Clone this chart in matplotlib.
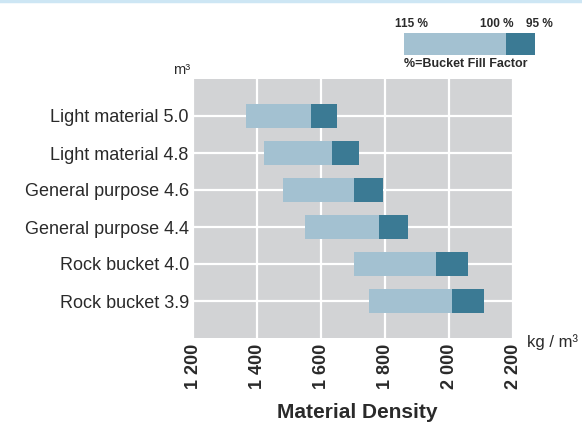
import matplotlib.pyplot as plt
from matplotlib.lines import Line2D

plt.rcParams['font.family'] = ['Liberation Sans', 'DejaVu Sans']

# bucket types and sizes (m3)
buckets = ["Light material", "Light material", "General purpose",
           "General purpose", "Rock bucket", "Rock bucket"]
sizes = ["5.0", "4.8", "4.6", "4.4", "4.0", "3.9"]

# material density (kg/m3) at 115 %, 100 % and 95 % bucket fill factor
dens_115 = [1366, 1423, 1482, 1551, 1703, 1751]
dens_100 = [1570, 1635, 1704, 1782, 1960, 2008]
dens_95 = [1651, 1720, 1794, 1873, 2060, 2110]

xticks = [1200, 1400, 1600, 1800, 2000, 2200]
xtick_labels = ["1 200", "1 400", "1 600", "1 800", "2 000", "2 200"]

light = "#a3c1d1"
dark = "#3b7a94"
bg = "#d2d3d5"
txt = "#2a2a2a"

fig = plt.figure(figsize=(5.82, 4.25), dpi=100)
ax = fig.add_axes([193 / 582, 1 - 338 / 425, 320 / 582, 259 / 425])
ax.set_facecolor(bg)

rows = list(range(len(buckets)))
w1 = [b - a for a, b in zip(dens_115, dens_100)]
w2 = [b - a for a, b in zip(dens_100, dens_95)]
ax.barh(rows, w1, left=dens_115, height=0.67, color=light, zorder=3)
ax.barh(rows, w2, left=dens_100, height=0.67, color=dark, zorder=3)

ax.set_xlim(1200, 2200)
ax.set_ylim(6, -1)
ax.set_xticks(xticks)
ax.set_xticklabels(xtick_labels, rotation=90, fontsize=13,
                   fontweight='bold', color=txt)
ax.set_yticks(rows)
ax.set_yticklabels([f"{b} {s}" for b, s in zip(buckets, sizes)],
                   fontsize=13, color=txt)
ax.tick_params(length=0, pad=3)
ax.tick_params(axis='x', pad=4)
ax.grid(True, color='white', linewidth=1.6, zorder=1)
for s in ax.spines.values():
    s.set_visible(False)

fig.text(190 / 582, 1 - 70 / 425, "m³", ha='right', va='center',
         fontsize=10.5, color=txt)
fig.text(527 / 582, 1 - 342 / 425, "kg / m³", ha='left', va='center',
         fontsize=12, color=txt)
fig.text(357 / 582, 1 - 413 / 425, "Material Density", ha='center',
         va='center', fontsize=15, fontweight='bold', color=txt)

# fill factor legend
lax = fig.add_axes([404 / 582, 1 - 55 / 425, 131 / 582, 22 / 425])
lax.barh([0], [0.78], left=0, height=1, color=light)
lax.barh([0], [0.22], left=0.78, height=1, color=dark)
lax.set_xlim(0, 1)
lax.set_ylim(-0.5, 0.5)
lax.axis('off')
fig.text(395 / 582, 1 - 24 / 425, "115 %", ha='left', va='center',
         fontsize=8.5, fontweight='bold', color=txt)
fig.text(514 / 582, 1 - 24 / 425, "100 %", ha='right', va='center',
         fontsize=8.5, fontweight='bold', color=txt)
fig.text(553 / 582, 1 - 24 / 425, "95 %", ha='right', va='center',
         fontsize=8.5, fontweight='bold', color=txt)
fig.text(404 / 582, 1 - 64 / 425, "%=Bucket Fill Factor", ha='left',
         va='center', fontsize=9, fontweight='bold', color=txt)

fig.add_artist(Line2D([0, 1], [0.997, 0.997], transform=fig.transFigure,
                      color="#cde6f4", linewidth=2.5))

fig.savefig("out.png", dpi=100)
